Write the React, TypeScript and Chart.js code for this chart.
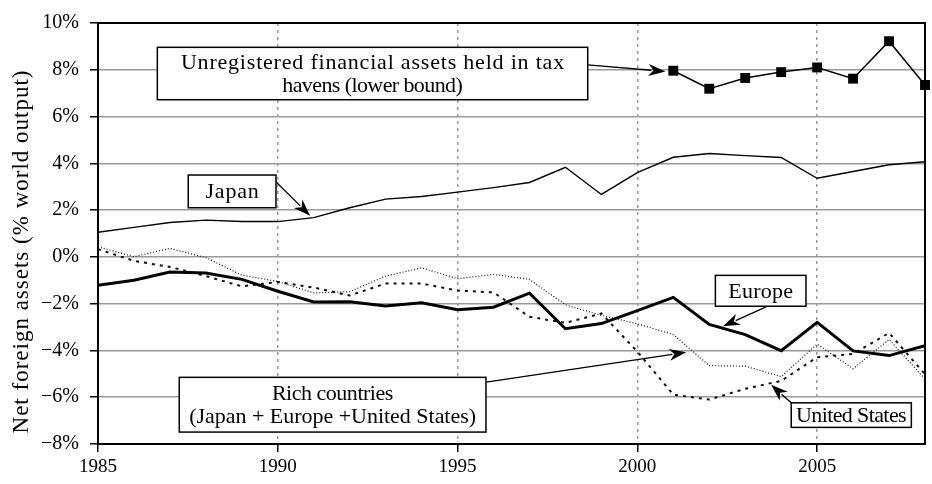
import React, { useEffect, useRef } from "react";
import { Chart, registerables } from "chart.js";

Chart.register(...registerables);

const years = [1985, 1986, 1987, 1988, 1989, 1990, 1991, 1992, 1993, 1994, 1995, 1996, 1997, 1998, 1999, 2000, 2001, 2002, 2003, 2004, 2005, 2006, 2007, 2008];
const japan = [1.05, 1.26, 1.47, 1.57, 1.51, 1.51, 1.68, 2.1, 2.47, 2.58, 2.77, 2.96, 3.18, 3.83, 2.67, 3.6, 4.26, 4.42, 4.33, 4.25, 3.36, 3.65, 3.94, 4.07];
const europe = [-1.21, -1.0, -0.65, -0.69, -0.96, -1.47, -1.93, -1.92, -2.1, -1.96, -2.26, -2.15, -1.55, -3.07, -2.85, -2.3, -1.73, -2.89, -3.32, -4.01, -2.8, -4.02, -4.22, -3.8];
const richCountries = [0.43, 0.01, 0.36, -0.03, -0.78, -1.05, -1.54, -1.49, -0.82, -0.47, -0.93, -0.75, -0.96, -2.05, -2.5, -2.86, -3.32, -4.65, -4.67, -5.12, -3.73, -4.78, -3.53, -5.22];
const unitedStates = [0.33, -0.17, -0.43, -0.82, -1.26, -1.07, -1.31, -1.65, -1.14, -1.14, -1.44, -1.52, -2.56, -2.82, -2.42, -4.05, -5.89, -6.1, -5.64, -5.3, -4.29, -4.15, -3.25, -5.02];
const taxHavenYears = [2001, 2002, 2003, 2004, 2005, 2006, 2007, 2008];
const taxHavens = [7.96, 7.19, 7.65, 7.9, 8.1, 7.62, 9.22, 7.35];
const xTicks = [1985, 1990, 1995, 2000, 2005];
const yTicks = [-8, -6, -4, -2, 0, 2, 4, 6, 8, 10];
const yTitle = "Net foreign assets (% world output)";

// annotation boxes (data coordinates): box [x1, yTop, x2, yBottom], arrow [fromX, fromY, toX, toY]
const annotations = [
  { lines: ["Unregistered financial assets held in tax", "havens (lower bound)"], widths: [406, 180], box: [1986.65, 8.96, 1998.62, 6.72], arrow: [1998.62, 8.21, 2000.78, 7.93] },
  { lines: ["Japan"], widths: [55], box: [1987.51, 3.5, 1989.95, 2.1], arrow: [1989.95, 3.21, 1990.9, 1.76] },
  { lines: ["Europe"], widths: [65], box: [2002.17, -0.79, 2004.69, -2.11], arrow: [2003.58, -2.14, 2002.38, -2.97] },
  { lines: ["Rich countries", "(Japan + Europe +United States)"], widths: [121, 287], box: [1987.26, -5.15, 1995.79, -7.49], arrow: [1995.8, -5.35, 2001.36, -4.08] },
  { lines: ["United States"], widths: [110], box: [2004.28, -6.24, 2007.62, -7.29], arrow: [2004.28, -6.24, 2003.72, -5.47] },
];

const FONT = '"Liberation Serif", "Times New Roman", serif';

function fitText(ctx: CanvasRenderingContext2D, s: string, cx: number, cy: number, target: number, maxLs: number) {
  (ctx as any).letterSpacing = "0px";
  const w = ctx.measureText(s).width;
  let ls = (target - w) / Math.max(1, s.length);
  ls = Math.max(-1, Math.min(maxLs, ls));
  (ctx as any).letterSpacing = ls.toFixed(2) + "px";
  ctx.fillText(s, cx + ls / 2, cy);
  (ctx as any).letterSpacing = "0px";
}

function drawArrow(ctx: CanvasRenderingContext2D, x1: number, y1: number, x2: number, y2: number) {
  const ang = Math.atan2(y2 - y1, x2 - x1);
  const len = 17, hw = 6;
  const bx = x2 - len * Math.cos(ang), by = y2 - len * Math.sin(ang);
  ctx.strokeStyle = "#000";
  ctx.lineWidth = 1.3;
  ctx.beginPath();
  ctx.moveTo(x1, y1);
  ctx.lineTo(bx + 3 * Math.cos(ang), by + 3 * Math.sin(ang));
  ctx.stroke();
  ctx.fillStyle = "#000";
  ctx.beginPath();
  ctx.moveTo(x2, y2);
  ctx.lineTo(bx + hw * Math.sin(ang), by - hw * Math.cos(ang));
  ctx.lineTo(x2 - (len - 5) * Math.cos(ang), y2 - (len - 5) * Math.sin(ang));
  ctx.lineTo(bx - hw * Math.sin(ang), by + hw * Math.cos(ang));
  ctx.closePath();
  ctx.fill();
}

const overlayPlugin = {
  id: "overlay",
  afterDatasetsDraw(chart: any) {
    const { ctx, chartArea, scales } = chart;
    const xs = scales.x, ys = scales.y;
    ctx.save();
    for (const a of annotations) {
      drawArrow(ctx, xs.getPixelForValue(a.arrow[0]), ys.getPixelForValue(a.arrow[1]), xs.getPixelForValue(a.arrow[2]), ys.getPixelForValue(a.arrow[3]));
    }
    for (const a of annotations) {
      const l = xs.getPixelForValue(a.box[0]);
      const t = ys.getPixelForValue(a.box[1]);
      const r = xs.getPixelForValue(a.box[2]);
      const b = ys.getPixelForValue(a.box[3]);
      ctx.fillStyle = "#fff";
      ctx.fillRect(l, t, r - l, b - t);
      ctx.strokeStyle = "#000";
      ctx.lineWidth = 1.5;
      ctx.strokeRect(l, t, r - l, b - t);
      ctx.fillStyle = "#000";
      ctx.font = `22px ${FONT}`;
      ctx.textAlign = "center";
      ctx.textBaseline = "middle";
      const cx = (l + r) / 2, cy = (t + b) / 2;
      const n = a.lines.length, lh = 23;
      a.lines.forEach((s, i) => fitText(ctx, s, cx, cy + 1 + (i - (n - 1) / 2) * lh, a.widths[i], 0.8));
    }
    ctx.strokeStyle = "#000";
    ctx.lineWidth = 2;
    ctx.strokeRect(chartArea.left, chartArea.top, chartArea.right - chartArea.left, chartArea.bottom - chartArea.top);
    ctx.restore();
  },
  afterDraw(chart: any) {
    const { ctx } = chart;
    ctx.save();
    ctx.translate(22, 252);
    ctx.rotate(-Math.PI / 2);
    ctx.fillStyle = "#000";
    ctx.font = `23px ${FONT}`;
    ctx.textAlign = "center";
    ctx.textBaseline = "middle";
    fitText(ctx, yTitle, 0, 0, 375, 1.0);
    ctx.restore();
  },
};

export default function App() {
  const ref = useRef<HTMLCanvasElement | null>(null);
  useEffect(() => {
    document.body.style.margin = "0";
    const toXY = (vals: number[], xsArr: number[]) => vals.map((v, i) => ({ x: xsArr[i], y: v }));
    const chart = new Chart(ref.current as HTMLCanvasElement, {
      type: "line",
      data: {
        datasets: [
          {
            label: "Unregistered financial assets held in tax havens (lower bound)",
            data: toXY(taxHavens, taxHavenYears),
            borderColor: "#000",
            backgroundColor: "#000",
            borderWidth: 1.5,
            pointStyle: "rect",
            pointRadius: 7,
            pointBorderWidth: 0,
            tension: 0,
            clip: false,
          },
          {
            label: "Europe",
            data: toXY(europe, years),
            borderColor: "#000",
            borderWidth: 3,
            pointRadius: 0,
            tension: 0,
          },
          {
            label: "Japan",
            data: toXY(japan, years),
            borderColor: "#000",
            borderWidth: 1.4,
            pointRadius: 0,
            tension: 0,
          },
          {
            label: "United States",
            data: toXY(unitedStates, years),
            borderColor: "#111",
            borderWidth: 2,
            borderDash: [3, 5],
            pointRadius: 0,
            tension: 0,
          },
          {
            label: "Rich countries (Japan + Europe + United States)",
            data: toXY(richCountries, years),
            borderColor: "#111",
            borderWidth: 1.2,
            borderDash: [1, 2],
            pointRadius: 0,
            tension: 0,
          },
        ],
      },
      options: {
        responsive: false,
        animation: false,
        devicePixelRatio: 1,
        layout: { padding: { left: 0, right: 6, top: 12, bottom: 0 } },
        plugins: { legend: { display: false }, tooltip: { enabled: false } },
        scales: {
          x: {
            type: "linear",
            min: 1985,
            max: 2008,
            afterBuildTicks: (s: any) => {
              s.ticks = xTicks.map((v) => ({ value: v }));
            },
            afterFit: (s: any) => {
              s.height = 40;
            },
            grid: {
              color: "#999",
              lineWidth: 1.5,
              tickColor: "#000",
              tickLength: 8,
              tickWidth: 1.5,
              tickBorderDash: [],
            },
            border: { display: true, color: "#000", width: 2, dash: [3, 4] },
            ticks: {
              color: "#000",
              padding: 4,
              maxRotation: 0,
              autoSkip: false,
              font: { family: FONT, size: 19 },
              callback: (v: any) => String(v),
            },
          },
          y: {
            type: "linear",
            min: -8,
            max: 10,
            afterBuildTicks: (s: any) => {
              s.ticks = yTicks.map((v) => ({ value: v }));
            },
            afterFit: (s: any) => {
              s.width = 98;
            },
            grid: {
              color: "#999",
              lineWidth: 1.5,
              tickColor: "#000",
              tickLength: 8,
              tickWidth: 1.5,
            },
            border: { display: true, color: "#000", width: 2 },
            ticks: {
              color: "#000",
              padding: 11,
              autoSkip: false,
              font: { family: FONT, size: 20 },
              callback: (v: any) => (v < 0 ? "\u2212" : "") + Math.abs(v) + "%",
            },
          },
        },
      } as any,
      plugins: [overlayPlugin],
    });
    return () => chart.destroy();
  }, []);
  return (
    <div style={{ width: 932, height: 484 }}>
      <canvas ref={ref} width={932} height={484} style={{ display: "block" }} />
    </div>
  );
}
